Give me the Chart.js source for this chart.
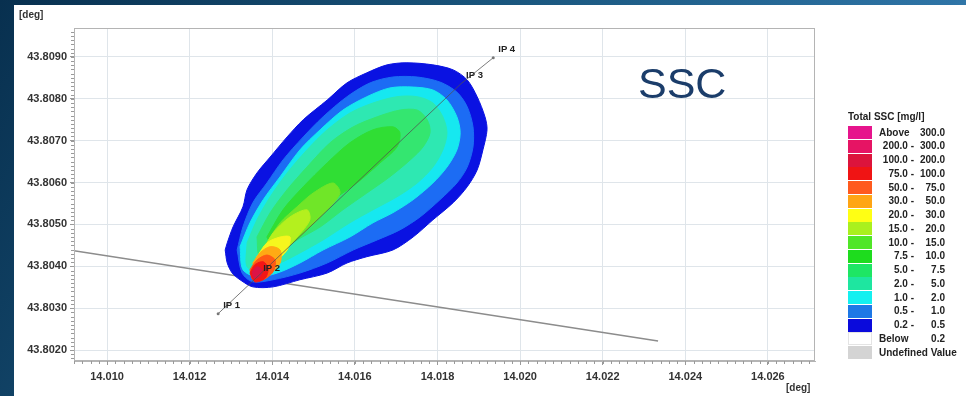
<!DOCTYPE html>
<html>
<head>
<meta charset="utf-8">
<script src="https://cdn.jsdelivr.net/npm/chart.js@4.4.1/dist/chart.umd.min.js"></script>
<style>
  html, body { margin: 0; padding: 0; }
  body {
    width: 966px; height: 396px; overflow: hidden; position: relative;
    background: linear-gradient(120deg, #08304f 0%, #1b5880 45%, #2e74a6 80%, #6aa8d4 100%);
    font-family: "Liberation Sans", Arial, sans-serif;
  }
  #panel { position: absolute; left: 14px; top: 5px; width: 952px; height: 391px; background: #fff; overflow: hidden; }
  #chart { position: absolute; left: 0; top: 0; }
  .unit { position: absolute; font-size: 10px; font-weight: bold; color: #333; line-height: 12px; }
  #ssc { position: absolute; left: 624px; top: 57px; font-size: 43px; line-height: 1; color: #1b3d6a; }
  .lg-title { position: absolute; left: 834px; top: 106px; font-size: 10px; font-weight: bold; color: #222; line-height: 12px; white-space: nowrap; }
  .lg-sw { position: absolute; left: 834px; width: 24px; height: 13px; }
  .lg-txt { position: absolute; font-size: 10px; font-weight: bold; color: #222; line-height: 13.75px; white-space: nowrap; }
</style>
</head>
<body>
<div id="panel">
  <canvas id="chart" width="952" height="391"></canvas>
  <div class="unit" style="left:5px; top:4px;">[deg]</div>
  <div class="unit" style="left:772px; top:377px;">[deg]</div>
  <div id="ssc">SSC</div>
  <div id="legend"></div>
</div>
<script>
// axes
const xTicks = [14.010, 14.012, 14.014, 14.016, 14.018, 14.020, 14.022, 14.024, 14.026];
const yTicks = [43.802, 43.803, 43.804, 43.805, 43.806, 43.807, 43.808, 43.809];
const xRange = [14.0092, 14.02714];
const yRange = [43.80174, 43.80969];

// coastline / boundary line
const coastLon = [14.0092, 14.02334];
const coastLat = [43.80437, 43.80222];

// IP transect
const ipNames = ['IP 1', 'IP 2', 'IP 3', 'IP 4'];
const ipLon = [14.01269, 14.01366, 14.01857, 14.01935];
const ipLat = [43.80287, 43.80377, 43.80836, 43.80898];

// plume contours [lon, lat], outer to inner
const plume_0_2 = [[14.01286,43.80439],[14.01291,43.80456],[14.01305,43.80494],[14.01329,43.80542],[14.01339,43.80583],[14.01363,43.80623],[14.01395,43.80661],[14.01436,43.80709],[14.01475,43.80750],[14.01533,43.80797],[14.01581,43.80838],[14.01629,43.80862],[14.01678,43.80881],[14.01726,43.80886],[14.01789,43.80881],[14.01838,43.80869],[14.01872,43.80845],[14.01896,43.80805],[14.01915,43.80757],[14.01920,43.80726],[14.01910,43.80678],[14.01896,43.80630],[14.01872,43.80590],[14.01838,43.80552],[14.01789,43.80511],[14.01741,43.80470],[14.01692,43.80439],[14.01629,43.80423],[14.01581,43.80408],[14.01533,43.80384],[14.01467,43.80368],[14.01402,43.80351],[14.01353,43.80351],[14.01322,43.80368],[14.01303,43.80384],[14.01291,43.80408]];
const plume_0_5 = [[14.01315,43.80439],[14.01329,43.80494],[14.01353,43.80552],[14.01387,43.80599],[14.01426,43.80654],[14.01475,43.80709],[14.01523,43.80757],[14.01581,43.80805],[14.01637,43.80838],[14.01692,43.80852],[14.01751,43.80852],[14.01806,43.80840],[14.01847,43.80816],[14.01872,43.80781],[14.01886,43.80733],[14.01886,43.80685],[14.01872,43.80637],[14.01847,43.80599],[14.01806,43.80559],[14.01758,43.80518],[14.01709,43.80487],[14.01654,43.80463],[14.01596,43.80439],[14.01533,43.80408],[14.01467,43.80384],[14.01402,43.80368],[14.01353,43.80363],[14.01327,43.80384]];
const plume_1_0 = [[14.01322,43.80447],[14.01346,43.80504],[14.01378,43.80559],[14.01419,43.80614],[14.01467,43.80678],[14.01516,43.80726],[14.01571,43.80773],[14.01629,43.80805],[14.01685,43.80826],[14.01741,43.80828],[14.01789,43.80821],[14.01823,43.80797],[14.01847,43.80757],[14.01855,43.80719],[14.01847,43.80678],[14.01823,43.80637],[14.01789,43.80599],[14.01741,43.80559],[14.01692,43.80528],[14.01644,43.80504],[14.01588,43.80470],[14.01523,43.80439],[14.01467,43.80408],[14.01412,43.80384],[14.01363,43.80375],[14.01329,43.80392]];
const plume_2_0 = [[14.01339,43.80456],[14.01363,43.80511],[14.01395,43.80566],[14.01436,43.80623],[14.01484,43.80678],[14.01533,43.80726],[14.01588,43.80766],[14.01644,43.80790],[14.01702,43.80805],[14.01751,43.80805],[14.01789,43.80790],[14.01813,43.80757],[14.01823,43.80719],[14.01813,43.80678],[14.01789,43.80637],[14.01751,43.80599],[14.01702,43.80566],[14.01644,43.80535],[14.01588,43.80504],[14.01523,43.80463],[14.01467,43.80432],[14.01419,43.80408],[14.01370,43.80392],[14.01339,43.80399]];
const plume_5_0 = [[14.01363,43.80470],[14.01395,43.80528],[14.01436,43.80583],[14.01484,43.80637],[14.01540,43.80695],[14.01596,43.80733],[14.01654,43.80757],[14.01709,43.80773],[14.01751,43.80773],[14.01775,43.80750],[14.01782,43.80719],[14.01765,43.80685],[14.01734,43.80654],[14.01685,43.80614],[14.01629,43.80575],[14.01571,43.80535],[14.01516,43.80494],[14.01460,43.80463],[14.01412,43.80432],[14.01370,43.80423]];
const plume_7_5 = [[14.01387,43.80470],[14.01426,43.80535],[14.01475,43.80590],[14.01533,43.80647],[14.01588,43.80695],[14.01644,43.80726],[14.01692,43.80733],[14.01709,43.80719],[14.01702,43.80685],[14.01661,43.80647],[14.01605,43.80599],[14.01547,43.80559],[14.01491,43.80518],[14.01443,43.80480],[14.01402,43.80447]];
const plume_10 = [[14.01387,43.80456],[14.01419,43.80504],[14.01460,43.80542],[14.01499,43.80575],[14.01547,43.80599],[14.01564,43.80575],[14.01533,43.80535],[14.01484,43.80487],[14.01436,43.80447],[14.01402,43.80432]];
const plume_15 = [[14.01378,43.80439],[14.01402,43.80480],[14.01443,43.80518],[14.01484,43.80535],[14.01491,43.80511],[14.01460,43.80470],[14.01419,43.80432]];
const plume_20 = [[14.01363,43.80423],[14.01387,43.80456],[14.01419,43.80470],[14.01443,43.80470],[14.01436,43.80439],[14.01402,43.80408],[14.01375,43.80399]];
const plume_30 = [[14.01353,43.80408],[14.01370,43.80432],[14.01395,43.80447],[14.01419,43.80439],[14.01419,43.80408],[14.01395,43.80384],[14.01363,43.80380]];
const plume_50 = [[14.01346,43.80392],[14.01363,43.80415],[14.01387,43.80427],[14.01407,43.80415],[14.01402,43.80387],[14.01378,43.80368],[14.01353,43.80368]];
const plume_75 = [[14.01346,43.80384],[14.01358,43.80404],[14.01378,43.80411],[14.01390,43.80396],[14.01383,43.80372],[14.01358,43.80363]];
const plume_100 = [[14.01351,43.80387],[14.01363,43.80399],[14.01375,43.80392],[14.01370,43.80375],[14.01356,43.80372]];

const plumeLevels = [0.2, 0.5, 1.0, 2.0, 5.0, 7.5, 10, 15, 20, 30, 50, 75, 100];
const plumeShapes = [plume_0_2, plume_0_5, plume_1_0, plume_2_0, plume_5_0, plume_7_5, plume_10, plume_15, plume_20, plume_30, plume_50, plume_75, plume_100];
const plumeColors = ['#0a12e2', '#1c6cf4', '#16e8f0', '#2ee8b2', '#34e670', '#30de34', '#70e628', '#b4f01e', '#f6f61e', '#ffaa14', '#ff5a14', '#f41616', '#dc1446'];

// legend
const legendLabels = [
  ['Above', '300.0'], ['200.0 -', '300.0'], ['100.0 -', '200.0'], ['75.0 -', '100.0'],
  ['50.0 -', '75.0'], ['30.0 -', '50.0'], ['20.0 -', '30.0'], ['15.0 -', '20.0'],
  ['10.0 -', '15.0'], ['7.5 -', '10.0'], ['5.0 -', '7.5'], ['2.0 -', '5.0'],
  ['1.0 -', '2.0'], ['0.5 -', '1.0'], ['0.2 -', '0.5'], ['Below', '0.2'], ['Undefined Value', '']
];
const legendColors = ['#e6148c', '#e61464', '#dc143c', '#f01414', '#ff5a1e', '#ffa514', '#ffff14', '#aaf01e',
  '#50e628', '#1edc1e', '#1ee664', '#1ee6a0', '#14f0f0', '#1e78e6', '#0a0adc', '#ffffff', '#d4d4d4'];

function buildLegend() {
  const box = document.getElementById('legend');
  const title = document.createElement('div');
  title.className = 'lg-title';
  title.textContent = 'Total SSC [mg/l]';
  box.appendChild(title);
  legendLabels.forEach((lab, i) => {
    const top = 121 + i * 13.75;
    const sw = document.createElement('div');
    sw.className = 'lg-sw';
    sw.style.top = top + 'px';
    sw.style.background = legendColors[i];
    if (legendColors[i] === '#ffffff') sw.style.boxShadow = 'inset 0 0 0 1px #e4e4e4';
    box.appendChild(sw);

    const a = document.createElement('div');
    a.className = 'lg-txt';
    a.style.top = (top - 0.4) + 'px';
    a.textContent = lab[0];
    if (/^[A-Z]/.test(lab[0])) {
      a.style.left = '865px';
    } else {
      a.style.left = '840px'; a.style.width = '60px'; a.style.textAlign = 'right';
    }
    box.appendChild(a);

    if (lab[1]) {
      const b = document.createElement('div');
      b.className = 'lg-txt';
      b.style.top = (top - 0.4) + 'px';
      b.style.left = '901px'; b.style.width = '30px'; b.style.textAlign = 'right';
      b.textContent = lab[1];
      box.appendChild(b);
    }
  });
}

const toPoints = (lon, lat) => lon.map((v, i) => ({ x: v, y: lat[i] }));

const frame = {
  id: 'frame',
  afterDraw(chart) {
    const { ctx, chartArea: a, scales: { x, y } } = chart;
    ctx.save();
    ctx.strokeStyle = '#b4b4b4';
    ctx.lineWidth = 1;
    ctx.strokeRect(a.left + 0.5, a.top + 0.5, a.right - a.left - 1, a.bottom - a.top - 1);
    // minor ticks
    ctx.strokeStyle = '#9a9a9a';
    ctx.beginPath();
    for (let v = Math.ceil(x.min / 0.0002) * 0.0002; v <= x.max; v += 0.0002) {
      const px = Math.round(x.getPixelForValue(v)) + 0.5;
      ctx.moveTo(px, a.bottom); ctx.lineTo(px, a.bottom + 3);
    }
    for (let v = Math.ceil(y.min / 0.0001) * 0.0001; v <= y.max; v += 0.0001) {
      const py = Math.round(y.getPixelForValue(v)) + 0.5;
      ctx.moveTo(a.left, py); ctx.lineTo(a.left - 3, py);
    }
    ctx.stroke();
    ctx.restore();
  }
};

const ipLabels = {
  id: 'ipLabels',
  afterDatasetsDraw(chart) {
    const idx = chart.data.datasets.findIndex(d => d.label === 'IP');
    const meta = chart.getDatasetMeta(idx);
    const { ctx } = chart;
    ctx.save();
    ctx.font = 'bold 9.5px "Liberation Sans", Arial, sans-serif';
    ctx.fillStyle = '#222';
    ctx.textBaseline = 'middle';
    meta.data.forEach((pt, i) => {
      ctx.fillText(ipNames[i], pt.x + 5, pt.y - 8);
    });
    ctx.restore();
  }
};

function drawChart() {
  const contourSets = plumeShapes.map((shape, i) => ({
    label: 'SSC ' + plumeLevels[i],
    data: shape.concat([shape[0]]).map(p => ({ x: p[0], y: p[1] })),
    showLine: true,
    fill: 'shape',
    backgroundColor: plumeColors[i],
    borderColor: plumeColors[i],
    borderWidth: 1,
    pointRadius: 0,
    tension: 0.3,
    order: 50 - i
  }));

  const datasets = [
    {
      label: 'coast',
      data: toPoints(coastLon, coastLat),
      showLine: true,
      borderColor: '#8c8c8c',
      borderWidth: 1.5,
      pointRadius: 0,
      order: 100
    },
    ...contourSets,
    {
      label: 'IP',
      data: toPoints(ipLon, ipLat),
      showLine: true,
      borderColor: 'rgba(80,80,80,0.75)',
      borderWidth: 1,
      pointRadius: [1.5, 0, 0, 1.5],
      pointBackgroundColor: '#777',
      pointBorderWidth: 0,
      order: 0
    }
  ];

  new Chart(document.getElementById('chart'), {
    type: 'scatter',
    data: { datasets },
    options: {
      responsive: false,
      animation: false,
      events: [],
      layout: { padding: { left: 0, top: 23, right: 151, bottom: 0 } },
      plugins: { legend: { display: false }, tooltip: { enabled: false } },
      scales: {
        x: {
          type: 'linear',
          min: xRange[0],
          max: xRange[1],
          afterBuildTicks: s => { s.ticks = xTicks.map(v => ({ value: v })); },
          afterFit: s => { s.height = 35; },
          grid: { color: '#dfe5ea', tickColor: '#9a9a9a', tickLength: 4 },
          border: { color: '#b4b4b4' },
          ticks: {
            color: '#333',
            padding: 5,
            maxRotation: 0,
            font: { family: '"Liberation Sans", Arial, sans-serif', size: 11, weight: 'bold' },
            callback: v => Number(v).toFixed(3)
          }
        },
        y: {
          type: 'linear',
          min: yRange[0],
          max: yRange[1],
          afterBuildTicks: s => { s.ticks = yTicks.map(v => ({ value: v })); },
          afterFit: s => { s.width = 60; },
          grid: { color: '#dfe5ea', tickColor: '#9a9a9a', tickLength: 4 },
          border: { color: '#b4b4b4' },
          ticks: {
            color: '#333',
            padding: 3,
            font: { family: '"Liberation Sans", Arial, sans-serif', size: 11, weight: 'bold' },
            callback: v => Number(v).toFixed(4)
          }
        }
      }
    },
    plugins: [frame, ipLabels]
  });
}

buildLegend();
drawChart();
</script>
</body>
</html>
